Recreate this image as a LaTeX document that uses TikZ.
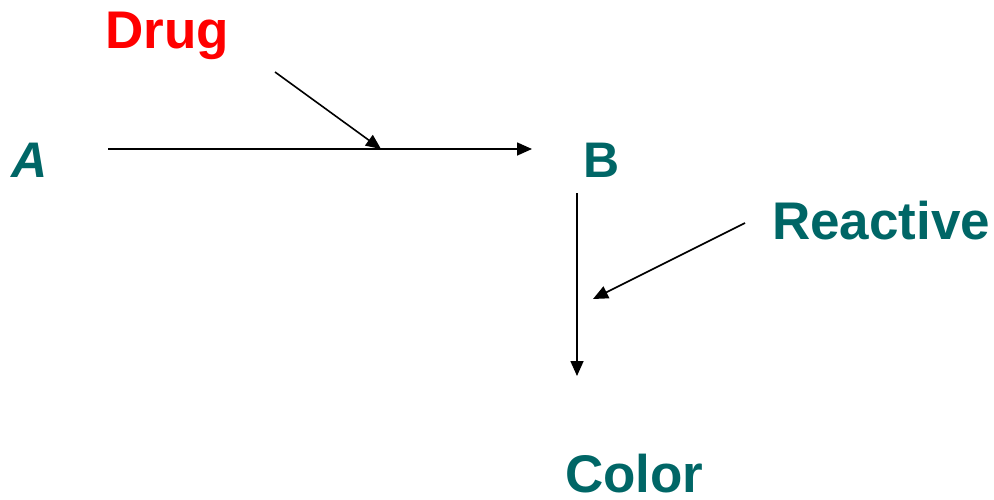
\documentclass[tikz,border=0pt]{standalone}
\usepackage{fontspec}
\setmainfont{Liberation Sans}
\usetikzlibrary{arrows.meta}
\definecolor{tealtext}{RGB}{0,102,102}
\definecolor{drugred}{RGB}{255,0,0}
\begin{document}
\begin{tikzpicture}[x=1pt,y=-1pt,
  label/.style={inner sep=0pt,font=\fontsize{53}{56}\selectfont\bfseries,text=tealtext},
  flow/.style={line width=1.6pt,-{Triangle[length=15pt,width=13pt]}}]
  \useasboundingbox (0,0) rectangle (994,499);
  % species and reagents
  \node[label,anchor=center,font=\fontsize{50}{56}\selectfont\bfseries\itshape] (A) at (30,160) {A};
  \node[label,anchor=center,font=\fontsize{50}{56}\selectfont\bfseries] (B) at (602,160) {B};
  \node[label,anchor=base west,text=drugred] (drug) at (105,48) {Drug};
  \node[label,anchor=base west] (reactive) at (772,239) {Reactive};
  \node[label,anchor=base west] (color) at (565,492) {Color};
  % arrow end points
  \coordinate (ab0) at (108,149);
  \coordinate (ab1) at (532,149);
  \coordinate (d0) at (275,72);
  \coordinate (d1) at (381,149);
  \coordinate (bc0) at (577,193);
  \coordinate (bc1) at (577,376);
  \coordinate (r0) at (745,223);
  \coordinate (r1) at (593,299);
  % reactions
  \draw[flow] (ab0) -- (ab1);
  \draw[flow] (d0) -- (d1);
  \draw[flow] (bc0) -- (bc1);
  \draw[flow] (r0) -- (r1);
\end{tikzpicture}
\end{document}
